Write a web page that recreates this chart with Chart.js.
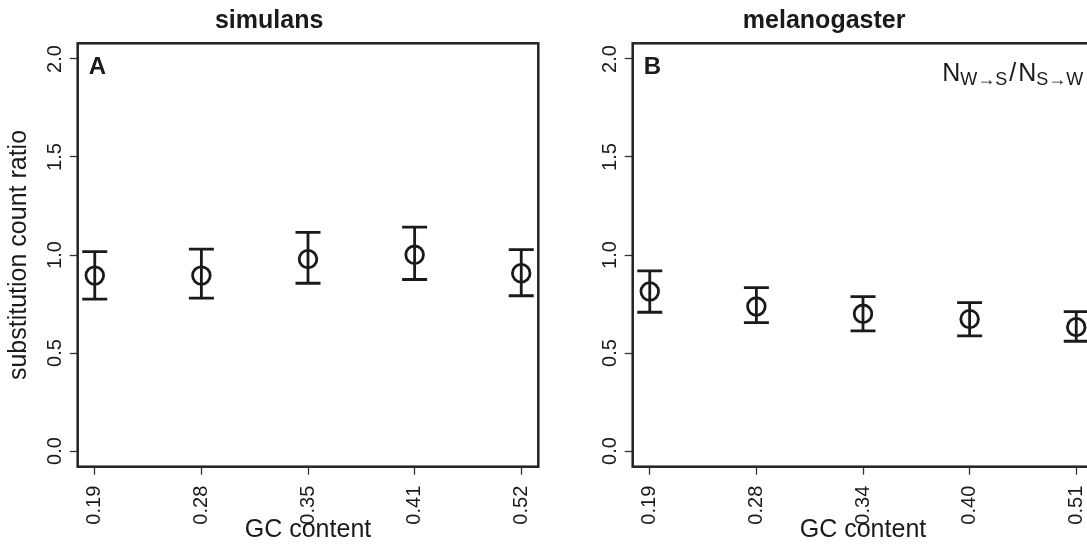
<!DOCTYPE html>
<html>
<head>
<meta charset="utf-8">
<script src="https://cdn.jsdelivr.net/npm/chart.js@4/dist/chart.umd.min.js"></script>
<style>
  html, body { margin: 0; padding: 0; background: #fff; }
  body { width: 1087px; height: 545px; overflow: hidden; position: relative; }
  canvas { position: absolute; top: 0; }
  #simChart { left: 0; }
  #melChart { left: 555px; }
</style>
</head>
<body>
<canvas id="simChart" width="560" height="545"></canvas>
<canvas id="melChart" width="560" height="545"></canvas>
<script>
// GC content categories and substitution count ratios (with error bar ends)
const gcSim = ['0.19', '0.28', '0.35', '0.41', '0.52'];
const ratioSim = [0.895, 0.895, 0.979, 1.001, 0.907];
const lowSim = [0.775, 0.780, 0.856, 0.875, 0.792];
const highSim = [1.017, 1.030, 1.115, 1.142, 1.027];

const gcMel = ['0.19', '0.28', '0.34', '0.40', '0.51'];
const ratioMel = [0.814, 0.737, 0.700, 0.673, 0.632];
const lowMel = [0.708, 0.655, 0.613, 0.587, 0.560];
const highMel = [0.919, 0.834, 0.788, 0.757, 0.711];

const yTicks = [0, 0.5, 1.0, 1.5, 2.0];

const ink = '#1a1a1a';
const fontFamily = '"Liberation Sans", Arial, Helvetica, sans-serif';

const errorBars = {
  id: 'errorBars',
  afterDatasetsDraw(chart, args, opts) {
    const ctx = chart.ctx;
    const xs = chart.scales.x, ys = chart.scales.y;
    ctx.save();
    ctx.strokeStyle = ink;
    ctx.lineWidth = 2.8;
    ctx.lineCap = 'butt';
    opts.low.forEach((lo, i) => {
      const x = xs.getPixelForValue(i + 1);
      const yLo = ys.getPixelForValue(lo);
      const yHi = ys.getPixelForValue(opts.high[i]);
      ctx.beginPath();
      ctx.moveTo(x, yLo); ctx.lineTo(x, yHi);
      ctx.moveTo(x - 12.5, yLo); ctx.lineTo(x + 12.5, yLo);
      ctx.moveTo(x - 12.5, yHi); ctx.lineTo(x + 12.5, yHi);
      ctx.stroke();
    });
    ctx.restore();
  }
};

const panelDecor = {
  id: 'panelDecor',
  afterDraw(chart, args, opts) {
    const ctx = chart.ctx;
    const a = chart.chartArea;
    ctx.save();
    // box round the plot
    ctx.strokeStyle = '#222';
    ctx.lineWidth = 2.5;
    ctx.strokeRect(a.left, a.top, a.right - a.left, a.bottom - a.top);
    // panel letter
    ctx.fillStyle = ink;
    ctx.font = 'bold 24px ' + fontFamily;
    ctx.textBaseline = 'alphabetic';
    ctx.fillText(opts.letter, a.left + 11, a.top + 31);
    if (opts.formula) {
      const big = '25px ' + fontFamily, small = '18px ' + fontFamily;
      const parts = [['N', big, 0, 0], ['W\u2192S', small, 4, 2], ['/', big, 0, 2], ['N', big, 0, 0], ['S\u2192W', small, 4, 0]];
      let w = 0;
      parts.forEach(p => { ctx.font = p[1]; w += ctx.measureText(p[0]).width + p[3]; });
      let x = a.right - 10 - w;
      const base = a.top + 38;
      parts.forEach(p => {
        ctx.font = p[1];
        ctx.fillText(p[0], x, base + p[2]);
        x += ctx.measureText(p[0]).width + p[3];
      });
    }
    ctx.restore();
  }
};

function makePanel(id, title, letter, formula, showYTitle, cats, ratio, low, high) {
  const ctx = document.getElementById(id).getContext('2d');
  return new Chart(ctx, {
    type: 'scatter',
    data: {
      datasets: [{
        data: ratio.map((v, i) => ({ x: i + 1, y: v })),
        pointStyle: 'circle',
        pointRadius: 8.8,
        pointHoverRadius: 8.8,
        pointBorderWidth: 2.8,
        borderColor: ink,
        backgroundColor: 'rgba(0,0,0,0)',
        showLine: false
      }]
    },
    options: {
      responsive: false,
      animation: false,
      events: [],
      layout: { padding: { left: 0, right: 21.7, top: 0, bottom: 0 } },
      plugins: {
        legend: { display: false },
        tooltip: { enabled: false },
        title: {
          display: true,
          text: title,
          color: ink,
          font: { family: fontFamily, size: 25, weight: 'bold' },
          padding: { top: 6, bottom: 7.3 }
        },
        errorBars: { low: low, high: high },
        panelDecor: { letter: letter, formula: formula }
      },
      scales: {
        x: {
          type: 'linear',
          min: 0.84,
          max: 5.16,
          afterBuildTicks: s => { s.ticks = cats.map((c, i) => ({ value: i + 1 })); },
          afterFit: s => { s.height = 78.3; },
          border: { display: false },
          grid: { drawOnChartArea: false, drawTicks: true, tickLength: 8, tickColor: '#333', tickWidth: 1.3 },
          ticks: {
            autoSkip: false,
            minRotation: 90,
            maxRotation: 90,
            padding: 11,
            color: ink,
            font: { family: fontFamily, size: 20 },
            callback: v => cats[Math.round(v) - 1]
          },
          title: {
            display: true,
            text: 'GC content',
            color: ink,
            font: { family: fontFamily, size: 25 },
            padding: { top: 0, bottom: 0 }
          }
        },
        y: {
          min: -0.08,
          max: 2.08,
          afterBuildTicks: s => { s.ticks = yTicks.map(v => ({ value: v })); },
          afterFit: s => { s.width = 77.7; },
          border: { display: false },
          grid: { drawOnChartArea: false, drawTicks: true, tickLength: 8, tickColor: '#333', tickWidth: 1.3 },
          ticks: {
            minRotation: 90,
            maxRotation: 90,
            crossAlign: 'center',
            padding: 0,
            color: ink,
            font: { family: fontFamily, size: 20 },
            callback: v => v.toFixed(1)
          },
          title: {
            display: showYTitle,
            text: 'substitution count ratio',
            color: ink,
            font: { family: fontFamily, size: 25 },
            padding: { top: 4, bottom: 0 }
          }
        }
      }
    },
    plugins: [errorBars, panelDecor]
  });
}

makePanel('simChart', 'simulans', 'A', false, true, gcSim, ratioSim, lowSim, highSim);
makePanel('melChart', 'melanogaster', 'B', true, false, gcMel, ratioMel, lowMel, highMel);
</script>
</body>
</html>
